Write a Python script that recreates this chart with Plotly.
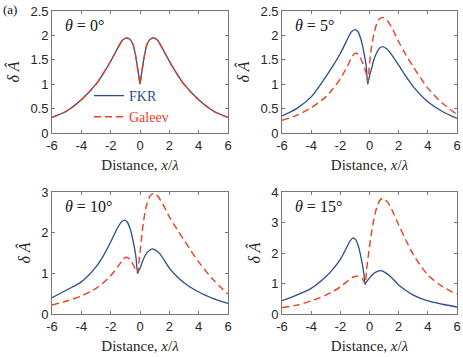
import plotly.graph_objects as go
from plotly.subplots import make_subplots

# (x in units of lambda)
theta_labels = ["0", "5", "10", "15"]

# theta = 0 : FKR and Galeev coincide
x_t0 = [-6, -5, -4, -3, -2.5, -2, -1.5, -1.2, -0.9, -0.7, -0.55, -0.45, -0.35, -0.25, -0.15, -0.07, 0,
        0.07, 0.15, 0.25, 0.35, 0.45, 0.55, 0.7, 0.9, 1.2, 1.5, 2, 2.5, 3, 4, 5, 6]
fkr_t0 = [0.32, 0.45, 0.68, 1.0, 1.22, 1.47, 1.75, 1.9, 1.95, 1.92, 1.86, 1.79, 1.66, 1.5, 1.3, 1.15, 1.0,
          1.15, 1.3, 1.5, 1.66, 1.79, 1.86, 1.92, 1.95, 1.9, 1.75, 1.47, 1.22, 1.0, 0.68, 0.45, 0.32]
gal_t0 = fkr_t0

# theta = 5
x_fkr_t5 = [-6, -5, -4, -3, -2.5, -2, -1.5, -1.25, -1.0, -0.8, -0.6, -0.45, -0.33, -0.22, -0.12, -0.05,
            0.05, 0.15, 0.3, 0.5, 0.7, 0.9, 1.2, 1.5, 2, 2.5, 3, 4, 5, 6]
fkr_t5 = [0.35, 0.5, 0.74, 1.15, 1.38, 1.63, 1.93, 2.07, 2.12, 2.08, 1.93, 1.75, 1.56, 1.36, 1.0, 1.1,
          1.22, 1.33, 1.5, 1.65, 1.74, 1.77, 1.72, 1.61, 1.39, 1.16, 0.95, 0.64, 0.44, 0.3]
x_gal_t5 = [-6, -5, -4, -3, -2.5, -2, -1.5, -1.2, -1.0, -0.8, -0.6, -0.45, -0.3, -0.2, -0.1, -0.03,
            0.05, 0.15, 0.3, 0.5, 0.7, 0.9, 1.2, 1.5, 2, 2.5, 3, 4, 5, 6]
gal_t5 = [0.26, 0.36, 0.52, 0.74, 0.91, 1.11, 1.38, 1.56, 1.63, 1.62, 1.53, 1.42, 1.29, 1.19, 1.05, 1.3,
          1.55, 1.78, 2.02, 2.24, 2.34, 2.37, 2.31, 2.18, 1.87, 1.6, 1.36, 0.92, 0.61, 0.38]

# theta = 10
x_fkr_t10 = [-6, -5, -4, -3, -2.5, -2, -1.5, -1.25, -1.05, -0.85, -0.65, -0.5, -0.38, -0.27, -0.16, -0.08,
             0, 0.15, 0.3, 0.5, 0.7, 0.86, 1.1, 1.4, 2, 2.5, 3, 4, 5, 6]
fkr_t10 = [0.4, 0.59, 0.79, 1.16, 1.43, 1.77, 2.14, 2.27, 2.31, 2.25, 2.07, 1.85, 1.63, 1.38, 1.0, 1.07,
           1.12, 1.27, 1.4, 1.52, 1.58, 1.6, 1.56, 1.46, 1.13, 0.93, 0.77, 0.54, 0.38, 0.26]
x_gal_t10 = [-6, -5, -4, -3, -2.5, -2, -1.5, -1.2, -1.0, -0.8, -0.6, -0.45, -0.3, -0.16, -0.08, 0,
             0.1, 0.25, 0.45, 0.7, 0.92, 1.2, 1.5, 2, 2.5, 3, 4, 5, 6]
gal_t10 = [0.22, 0.32, 0.44, 0.63, 0.77, 0.94, 1.17, 1.32, 1.39, 1.38, 1.3, 1.2, 1.1, 1.0, 1.25, 1.5,
           1.85, 2.3, 2.68, 2.91, 2.97, 2.9, 2.74, 2.39, 2.1, 1.82, 1.28, 0.84, 0.49]

# theta = 15
x_fkr_t15 = [-6, -5, -4, -3, -2.5, -2, -1.6, -1.35, -1.15, -0.95, -0.75, -0.6, -0.48, -0.38, -0.3, -0.2,
             -0.05, 0.15, 0.35, 0.55, 0.75, 1.0, 1.4, 2, 2.5, 3, 4, 5, 6]
fkr_t15 = [0.44, 0.62, 0.84, 1.22, 1.47, 1.79, 2.15, 2.38, 2.49, 2.44, 2.2, 1.9, 1.6, 1.3, 0.98, 1.06,
           1.15, 1.26, 1.35, 1.4, 1.42, 1.38, 1.25, 0.95, 0.77, 0.62, 0.43, 0.32, 0.23]
x_gal_t15 = [-6, -5, -4, -3, -2.5, -2, -1.5, -1.2, -1.0, -0.8, -0.6, -0.45, -0.3, -0.2, -0.1, 0,
             0.15, 0.3, 0.5, 0.7, 0.9, 1.1, 1.4, 2, 2.5, 3, 4, 5, 6]
gal_t15 = [0.21, 0.29, 0.43, 0.62, 0.74, 0.89, 1.08, 1.19, 1.23, 1.24, 1.2, 1.13, 0.98, 1.45, 1.85, 2.2,
           2.7, 3.1, 3.5, 3.72, 3.79, 3.74, 3.55, 2.92, 2.42, 1.95, 1.28, 0.9, 0.65]

x_ticks = [-6, -4, -2, 0, 2, 4, 6]
x_ticktext = ["-6", "-4", "-2", "0", "2", "4", "6"]
y_max = [2.5, 2.5, 3, 4]
y_dtick = [0.5, 0.5, 1, 1]

panels = [
    (x_t0, fkr_t0, x_t0, gal_t0),
    (x_fkr_t5, fkr_t5, x_gal_t5, gal_t5),
    (x_fkr_t10, fkr_t10, x_gal_t10, gal_t10),
    (x_fkr_t15, fkr_t15, x_gal_t15, gal_t15),
]

BLUE = "#2d4b8e"
RED = "#e8401c"
SERIF = "Liberation Serif"
SANS = "Liberation Sans"
W, H = 463, 357

fig = make_subplots(rows=2, cols=2)

for i, (xf, yf, xg, yg) in enumerate(panels):
    r, c = i // 2 + 1, i % 2 + 1
    fig.add_trace(go.Scatter(x=xf, y=yf, mode="lines",
                             line=dict(color=BLUE, width=1.3, shape="spline", smoothing=0.8),
                             name='<span style="color:%s;font-family:%s">FKR</span>' % (BLUE, SERIF),
                             showlegend=(i == 0)),
                  row=r, col=c)
    fig.add_trace(go.Scatter(x=xg, y=yg, mode="lines",
                             line=dict(color=RED, width=1.4, dash="7px,4px", shape="spline", smoothing=0.8),
                             name='<span style="color:%s;font-family:%s">Galeev</span>' % (RED, SERIF),
                             showlegend=(i == 0)),
                  row=r, col=c)

# panel boxes in pixels: left, right, top, bottom
boxes = [(52, 228, 11, 133), (282, 457, 11, 133), (52, 228, 192, 314), (282, 457, 192, 314)]

for i, (l, rt, t, b) in enumerate(boxes):
    r, c = i // 2 + 1, i % 2 + 1
    fig.update_xaxes(domain=[l / W, rt / W], range=[-6, 6], tickvals=x_ticks, ticktext=x_ticktext,
                     ticks="inside", ticklen=3, mirror="allticks", showline=True, automargin=False,
                     ticklabeloverflow="allow",
                     linecolor="#777", linewidth=0.8, tickcolor="#777", showgrid=False, zeroline=False,
                     tickfont=dict(family=SANS, size=13, color="#262626"),
                     title=dict(text="Distance, <i>x</i>/<i>λ</i>", font=dict(family=SERIF, size=15, color="#262626"),
                                standoff=7),
                     row=r, col=c)
    fig.update_yaxes(domain=[1 - b / H, 1 - t / H], range=[0, y_max[i]], dtick=y_dtick[i],
                     ticks="inside", ticklen=3, mirror="allticks", showline=True, automargin=False,
                     linecolor="#777", linewidth=0.8, tickcolor="#777", showgrid=False, zeroline=False,
                     tickfont=dict(family=SANS, size=13, color="#262626"),
                     title=dict(text="<i>δ Â</i>", font=dict(family=SERIF, size=16, color="#262626"),
                                standoff=6),
                     row=r, col=c)
    xref = "x domain" if i == 0 else "x%d domain" % (i + 1)
    yref = "y domain" if i == 0 else "y%d domain" % (i + 1)
    fig.add_annotation(text="<i>θ</i> = %s°" % theta_labels[i], xref=xref, yref=yref,
                       x=0.06, y=0.88, xanchor="left", yanchor="middle", showarrow=False,
                       font=dict(family=SERIF, size=16, color="#111"))

fig.add_annotation(text="(a)", xref="paper", yref="paper", x=0.002, y=1.0, xanchor="left", yanchor="top",
                   showarrow=False, font=dict(family=SERIF, size=13, color="#111"))

fig.update_layout(
    width=W, height=H,
    margin=dict(l=0, r=0, t=0, b=0),
    plot_bgcolor="white", paper_bgcolor="white",
    legend=dict(x=89 / W, y=1 - 80 / H, xanchor="left", yanchor="top", bgcolor="rgba(0,0,0,0)",
                font=dict(family=SERIF, size=14), itemwidth=30, tracegroupgap=0),
)

# drop the page's default 8px body margin so the figure sits at the window corner
fig.write_html("out.html", config={"displayModeBar": False},
               post_script="document.body.style.margin='0';")
